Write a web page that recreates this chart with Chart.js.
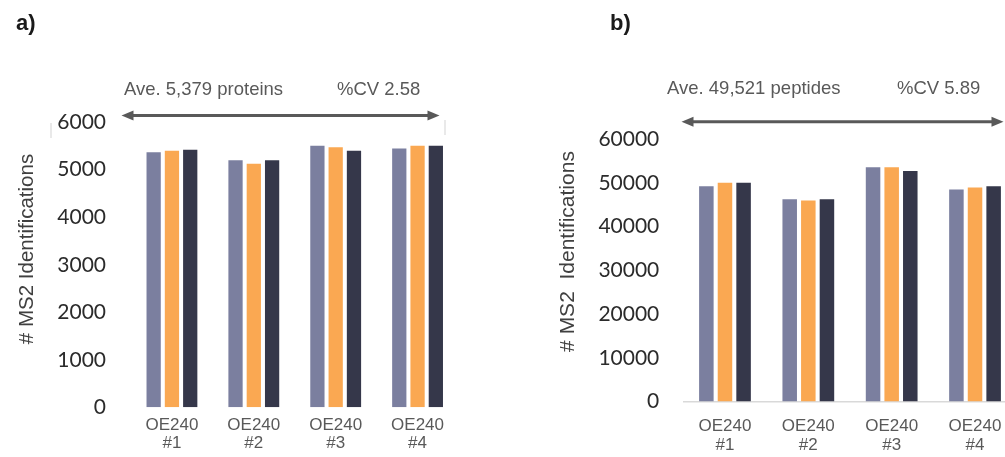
<!DOCTYPE html>
<html>
<head>
<meta charset="utf-8">
<script src="https://cdn.jsdelivr.net/npm/chart.js@4.4.1/dist/chart.umd.min.js"></script>
<style>
  html, body { margin: 0; padding: 0; background: #ffffff; }
  body { width: 1005px; height: 457px; overflow: hidden; position: relative; }
  canvas { position: absolute; top: 0; }
  #protChart { left: 0; }
  #pepChart { left: 500px; }
</style>
</head>
<body>
<canvas id="protChart" width="480" height="457"></canvas>
<canvas id="pepChart" width="530" height="457"></canvas>
<script>
// Samples on the x axis (two-line labels)
const categories = [['OE240', '#1'], ['OE240', '#2'], ['OE240', '#3'], ['OE240', '#4']];
const runNames = ['Run 1', 'Run 2', 'Run 3'];

// Protein identifications per run
const proteinRun1 = [5370, 5200, 5505, 5445];
const proteinRun2 = [5400, 5125, 5475, 5505];
const proteinRun3 = [5420, 5200, 5400, 5505];

// Peptide identifications per run
const peptideRun1 = [49230, 46260, 53570, 48470];
const peptideRun2 = [50010, 45960, 53570, 48930];
const peptideRun3 = [50010, 46260, 52750, 49230];

// Y axis tick values
const proteinTicks = [0, 1000, 2000, 3000, 4000, 5000, 6000];
const peptideTicks = [0, 10000, 20000, 30000, 40000, 50000, 60000];

const runColors = ['#7b7f9f', '#faa852', '#35374a'];

// Draws panel letter, rotated axis title, summary notes and the span arrow
const decorPlugin = {
  id: 'decor',
  afterDraw(chart, args, opts) {
    const ctx = chart.ctx;
    ctx.save();
    // panel letter
    ctx.fillStyle = '#1a1a1a';
    ctx.font = 'bold 22px "Liberation Sans", Arial, sans-serif';
    ctx.textAlign = 'left';
    ctx.textBaseline = 'alphabetic';
    ctx.fillText(opts.panel.text, opts.panel.x, opts.panel.y);

    // y axis title
    ctx.save();
    ctx.translate(opts.yTitle.x, opts.yTitle.y);
    ctx.rotate(-Math.PI / 2);
    ctx.fillStyle = '#404040';
    ctx.font = opts.yTitle.size + 'px "Liberation Sans", Arial, sans-serif';
    ctx.textAlign = 'center';
    ctx.textBaseline = 'middle';
    ctx.fillText(opts.yTitle.text, 0, 0);
    ctx.restore();

    // summary notes
    ctx.fillStyle = '#595959';
    ctx.font = '18.5px "Liberation Sans", Arial, sans-serif';
    ctx.textAlign = 'left';
    ctx.textBaseline = 'alphabetic';
    opts.notes.forEach(n => ctx.fillText(n.text, n.x, n.y));

    // double-headed arrow
    const a = opts.arrow;
    const head = 12, half = 5;
    ctx.strokeStyle = '#595959';
    ctx.fillStyle = '#595959';
    ctx.lineWidth = 3;
    ctx.beginPath();
    ctx.moveTo(a.x1 + head - 2, a.y);
    ctx.lineTo(a.x2 - head + 2, a.y);
    ctx.stroke();
    ctx.beginPath();
    ctx.moveTo(a.x1, a.y);
    ctx.lineTo(a.x1 + head, a.y - half);
    ctx.lineTo(a.x1 + head, a.y + half);
    ctx.closePath();
    ctx.fill();
    ctx.beginPath();
    ctx.moveTo(a.x2, a.y);
    ctx.lineTo(a.x2 - head, a.y - half);
    ctx.lineTo(a.x2 - head, a.y + half);
    ctx.closePath();
    ctx.fill();

    // faint frame marks
    if (opts.marks) {
      ctx.strokeStyle = '#e2e2e2';
      ctx.lineWidth = 1.5;
      opts.marks.forEach(m => {
        ctx.beginPath();
        ctx.moveTo(m.x, m.y1);
        ctx.lineTo(m.x, m.y2);
        ctx.stroke();
      });
    }
    ctx.restore();
  }
};

function makeDatasets(r1, r2, r3) {
  return [r1, r2, r3].map((vals, i) => ({
    label: runNames[i],
    data: vals,
    backgroundColor: runColors[i],
    borderWidth: 0,
    categoryPercentage: 0.67,
    barPercentage: 0.78
  }));
}

function makeOptions(cfg) {
  return {
    responsive: false,
    animation: false,
    devicePixelRatio: 1,
    layout: { padding: { left: 0, right: cfg.padRight, top: cfg.padTop, bottom: 0 } },
    plugins: {
      legend: { display: false },
      tooltip: { enabled: false },
      decor: cfg.decor
    },
    scales: {
      x: {
        grid: { display: false, drawTicks: false },
        border: cfg.baseline
          ? { display: true, color: '#d9d9d9', width: 1.5 }
          : { display: false },
        ticks: {
          color: '#595959',
          padding: cfg.xPad,
          font: { family: '"Liberation Sans", Arial, sans-serif', size: 17, lineHeight: 1.08 }
        },
        afterFit(scale) { scale.height = cfg.xHeight; }
      },
      y: {
        min: 0,
        max: cfg.ticks[cfg.ticks.length - 1],
        grid: { display: false, drawTicks: false },
        border: { display: false },
        afterBuildTicks(scale) { scale.ticks = cfg.ticks.map(v => ({ value: v })); },
        ticks: {
          color: '#2b2b2b',
          padding: cfg.yPad,
          font: { family: 'Lato, "Open Sans", sans-serif', size: 21 },
          callback: (v) => String(v)
        },
        afterFit(scale) { scale.width = cfg.yWidth; }
      }
    }
  };
}

new Chart(document.getElementById('protChart'), {
  type: 'bar',
  data: { labels: categories, datasets: makeDatasets(proteinRun1, proteinRun2, proteinRun3) },
  options: makeOptions({
    ticks: proteinTicks,
    padTop: 122.2,
    padRight: 21.5,
    yWidth: 131,
    yPad: 25,
    xHeight: 49.7,
    xPad: 8.5,
    baseline: false,
    decor: {
      panel: { text: 'a)', x: 16, y: 30 },
      yTitle: { text: '# MS2 Identifications', x: 27, y: 249, size: 20.5 },
      notes: [
        { text: 'Ave. 5,379 proteins', x: 124, y: 95 },
        { text: '%CV 2.58', x: 337, y: 95 }
      ],
      arrow: { x1: 121.5, x2: 439.5, y: 115.5 },
      marks: [{ x: 51, y1: 123, y2: 138 }, { x: 445, y1: 120, y2: 135 }]
    }
  }),
  plugins: [decorPlugin]
});

new Chart(document.getElementById('pepChart'), {
  type: 'bar',
  data: { labels: categories, datasets: makeDatasets(peptideRun1, peptideRun2, peptideRun3) },
  options: makeOptions({
    ticks: peptideTicks,
    padTop: 139.2,
    padRight: 13.3,
    yWidth: 183.3,
    yPad: 24,
    xHeight: 55.5,
    xPad: 16,
    baseline: true,
    decor: {
      panel: { text: 'b)', x: 110, y: 30 },
      yTitle: { text: '# MS2  Identifications', x: 68, y: 251.5, size: 21 },
      notes: [
        { text: 'Ave. 49,521 peptides', x: 167, y: 94 },
        { text: '%CV 5.89', x: 397, y: 94 }
      ],
      arrow: { x1: 181.5, x2: 503.5, y: 121.7 },
      marks: null
    }
  }),
  plugins: [decorPlugin]
});
</script>
</body>
</html>
